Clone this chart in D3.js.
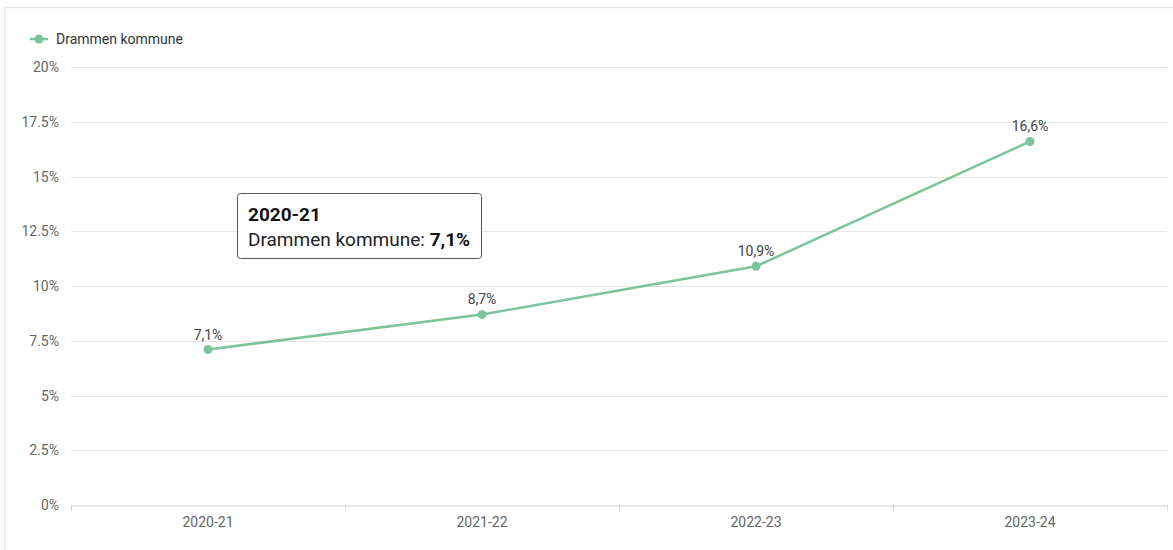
<!DOCTYPE html>
<html><head><meta charset="utf-8">
<script src="https://cdn.jsdelivr.net/npm/d3@7"></script>
<style>
body{margin:0;background:#fff;font-family:Roboto,"Open Sans",sans-serif;}
svg{display:block;}
</style></head>
<body><svg id="c" width="1173" height="550"></svg>
<script>
const categories = ["2020-21","2021-22","2022-23","2023-24"];
const seriesName = "Drammen kommune";
const values = [7.1, 8.7, 10.9, 16.6];
const yTicks = [0, 2.5, 5, 7.5, 10, 12.5, 15, 17.5, 20];
const tooltipIndex = 0;

const fmt = v => String(v).replace(".", ",");
const color = "#7cc49b";
const svg = d3.select("#c");

// outer frame (top + left)
svg.append("path").attr("d","M4.5,560 L4.5,7.5 L1200,7.5").attr("fill","none").attr("stroke","#e6e6e6").attr("stroke-width",1.5);

const x = d3.scaleBand().domain(categories).range([71,1167]);
const y = d3.scaleLinear().domain([0,20]).range([505,67]);

// gridlines
svg.append("g").selectAll("line").data(yTicks.filter(t=>t>0)).join("line")
  .attr("x1",71).attr("x2",1167)
  .attr("y1",d=>Math.round(y(d))+0.5).attr("y2",d=>Math.round(y(d))+0.5)
  .attr("stroke","#e6e6e6");

// y labels
svg.append("g").selectAll("text").data(yTicks).join("text")
  .attr("x",59).attr("y",d=>y(d)+5)
  .attr("text-anchor","end").attr("font-size",14).attr("fill","#666")
  .text(d=>d+"%");

// x axis
const xa = svg.append("g").attr("transform","translate(0,505.5)")
  .call(d3.axisBottom(x).tickSize(0).tickPadding(12));
xa.select(".domain").attr("stroke","#ccd6eb");
xa.selectAll("text").attr("font-size",14).attr("fill","#666").attr("font-family","Roboto,sans-serif");
const bounds = [...categories.map(c=>x(c)), 1167];
svg.append("g").selectAll("line").data(bounds).join("line")
  .attr("x1",d=>Math.round(d)+0.5).attr("x2",d=>Math.round(d)+0.5)
  .attr("y1",505).attr("y2",511).attr("stroke","#ccd6eb");

// line
const cx = c => x(c)+x.bandwidth()/2;
svg.append("path").datum(values)
  .attr("d", d3.line().x((d,i)=>cx(categories[i])).y(d=>y(d)))
  .attr("fill","none").attr("stroke",color).attr("stroke-width",2.5);
svg.append("g").selectAll("circle").data(values).join("circle")
  .attr("cx",(d,i)=>cx(categories[i])).attr("cy",d=>y(d)).attr("r",4.5).attr("fill",color);
svg.append("g").selectAll("text").data(values).join("text")
  .attr("x",(d,i)=>cx(categories[i])).attr("y",d=>y(d)-10)
  .attr("text-anchor","middle").attr("font-size",14).attr("fill","#444")
  .text(d=>fmt(d)+"%");

// legend
const lg = svg.append("g");
lg.append("line").attr("x1",30).attr("x2",48).attr("y1",39).attr("y2",39).attr("stroke",color).attr("stroke-width",2.5);
lg.append("circle").attr("cx",39).attr("cy",39).attr("r",4.5).attr("fill",color);
lg.append("text").attr("x",56).attr("y",44).attr("font-size",14).attr("fill","#333").text(seriesName);

// tooltip
const tt = svg.append("g");
tt.append("rect").attr("x",237.5).attr("y",193.5).attr("width",244).attr("height",65).attr("rx",3)
  .attr("fill","#fff").attr("stroke","#555").attr("stroke-width",1);
tt.append("text").attr("x",248).attr("y",221).attr("font-size",19).attr("font-weight","bold").attr("fill","#111")
  .text(categories[tooltipIndex]);
const t2 = tt.append("text").attr("x",248).attr("y",246).attr("font-size",19).attr("fill","#222");
t2.append("tspan").text(seriesName+": ");
t2.append("tspan").attr("font-weight","bold").attr("fill","#111").text(fmt(values[tooltipIndex])+"%");
</script></body></html>
